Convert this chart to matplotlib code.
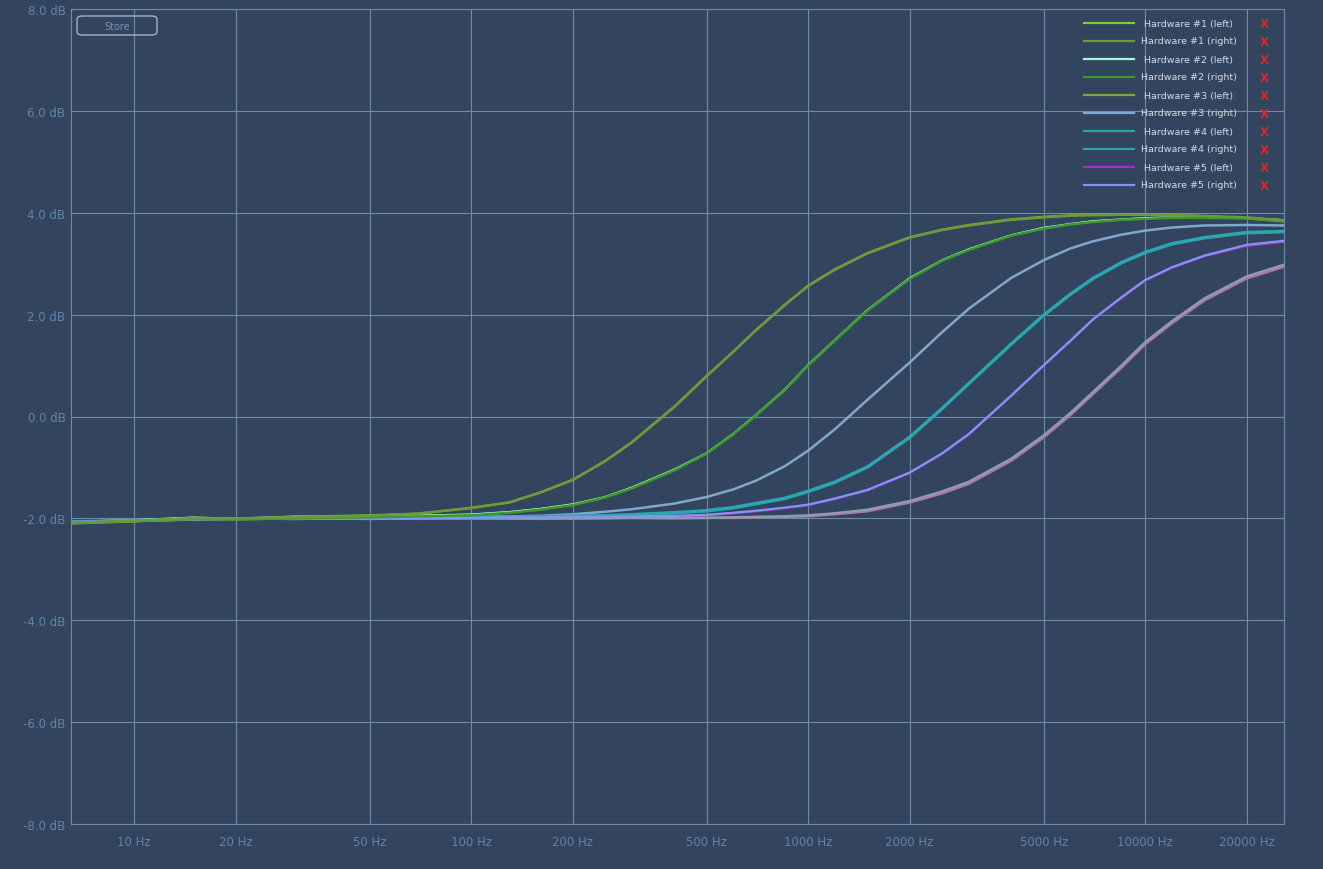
import matplotlib
matplotlib.use("Agg")
import matplotlib.pyplot as plt
from matplotlib.lines import Line2D
from matplotlib.patches import FancyBboxPatch

# ---------------- data ----------------
FREQ = [6.5, 10, 15, 20, 30, 50, 70, 100, 130, 160, 200, 250, 300, 400, 500, 600, 700, 850,
        1000, 1200, 1500, 2000, 2500, 3000, 4000, 5000, 6000, 7000, 8500,
        10000, 12000, 15000, 20000, 25800]

HW1_LEFT = [-2.07, -2.04, -1.99, -2.02, -2.00, -1.97, -1.95, -1.93, -1.88, -1.82, -1.73, -1.58, -1.40, -1.05, -0.72, -0.34, 0.03, 0.52,
            1.01, 1.50, 2.09, 2.71, 3.07, 3.28, 3.56, 3.70, 3.78, 3.83, 3.87, 3.89, 3.91, 3.91, 3.90, 3.85]
HW1_RIGHT = [-2.08, -2.05, -2.00, -2.00, -1.98, -1.95, -1.90, -1.80, -1.68, -1.50, -1.24, -0.88, -0.51, 0.18, 0.79, 1.28, 1.69, 2.19,
             2.56, 2.88, 3.20, 3.51, 3.66, 3.75, 3.86, 3.91, 3.94, 3.95, 3.96, 3.96, 3.95, 3.94, 3.91, 3.85]
HW2_LEFT = [-2.06, -2.03, -1.98, -2.00, -1.96, -1.96, -1.94, -1.92, -1.87, -1.81, -1.72, -1.58, -1.39, -1.04, -0.72, -0.34, 0.03, 0.52,
            1.01, 1.50, 2.09, 2.72, 3.07, 3.29, 3.56, 3.71, 3.78, 3.84, 3.87, 3.90, 3.91, 3.92, 3.90, 3.86]
HW2_RIGHT = [-2.09, -2.05, -2.01, -2.02, -2.00, -1.98, -1.96, -1.94, -1.89, -1.83, -1.74, -1.59, -1.41, -1.06, -0.73, -0.35, 0.02, 0.51,
             1.00, 1.49, 2.08, 2.70, 3.06, 3.27, 3.55, 3.69, 3.77, 3.82, 3.86, 3.88, 3.90, 3.90, 3.89, 3.84]
HW3_LEFT = [-2.10, -2.06, -1.99, -2.01, -1.97, -1.94, -1.91, -1.79, -1.69, -1.49, -1.25, -0.87, -0.50, 0.19, 0.80, 1.27, 1.70, 2.18,
            2.57, 2.89, 3.21, 3.52, 3.67, 3.76, 3.87, 3.92, 3.95, 3.96, 3.97, 3.97, 3.96, 3.93, 3.89, 3.83]
HW3_RIGHT = [-2.08, -2.05, -2.02, -2.01, -2.00, -1.99, -1.98, -1.97, -1.96, -1.95, -1.92, -1.87, -1.82, -1.71, -1.58, -1.43, -1.26, -0.98,
             -0.67, -0.25, 0.33, 1.06, 1.66, 2.12, 2.72, 3.07, 3.30, 3.44, 3.57, 3.65, 3.71, 3.75, 3.76, 3.75]
HW4_LEFT = [-2.08, -2.05, -2.02, -2.01, -2.00, -2.00, -2.00, -1.99, -1.98, -1.97, -1.96, -1.95, -1.94, -1.90, -1.86, -1.80, -1.72, -1.62,
            -1.48, -1.30, -1.00, -0.42, 0.15, 0.64, 1.41, 1.98, 2.39, 2.70, 3.01, 3.21, 3.38, 3.50, 3.60, 3.62]
HW4_RIGHT = [-2.06, -2.04, -2.01, -2.00, -2.01, -1.99, -1.99, -1.98, -1.97, -1.96, -1.95, -1.94, -1.92, -1.88, -1.84, -1.78, -1.70, -1.60,
             -1.46, -1.28, -0.98, -0.40, 0.17, 0.66, 1.43, 2.00, 2.41, 2.72, 3.03, 3.23, 3.40, 3.52, 3.62, 3.64]
HW5_LEFT = [-2.08, -2.05, -2.02, -2.01, -2.00, -2.01, -2.00, -2.00, -2.00, -1.99, -1.99, -1.98, -1.97, -1.96, -1.94, -1.90, -1.86, -1.80,
            -1.74, -1.62, -1.45, -1.11, -0.73, -0.35, 0.40, 1.00, 1.48, 1.90, 2.33, 2.67, 2.92, 3.15, 3.35, 3.43]
HW5_RIGHT = [-2.07, -2.04, -2.01, -2.00, -2.01, -2.00, -1.99, -1.99, -1.98, -1.98, -1.97, -1.97, -1.96, -1.95, -1.93, -1.89, -1.85, -1.79,
             -1.73, -1.61, -1.44, -1.10, -0.72, -0.34, 0.41, 1.01, 1.49, 1.91, 2.34, 2.68, 2.93, 3.16, 3.37, 3.45]
EXTRA_GREY = [-2.08, -2.05, -2.02, -2.01, -2.00, -2.01, -2.00, -2.00, -2.00, -2.00, -2.00, -1.99, -1.99, -1.99, -1.99, -1.98, -1.97, -1.96,
              -1.94, -1.90, -1.83, -1.66, -1.47, -1.28, -0.83, -0.37, 0.07, 0.48, 1.00, 1.46, 1.87, 2.32, 2.75, 2.98]
EXTRA_PINK = [-2.07, -2.04, -2.02, -2.00, -2.01, -2.00, -2.01, -1.99, -2.00, -2.01, -2.00, -2.00, -1.99, -2.00, -1.99, -1.99, -1.98, -1.97,
              -1.96, -1.92, -1.86, -1.69, -1.51, -1.32, -0.87, -0.41, 0.03, 0.44, 0.96, 1.42, 1.83, 2.28, 2.71, 2.94]

LABELS = ["Hardware #1 (left)", "Hardware #1 (right)", "Hardware #2 (left)", "Hardware #2 (right)",
          "Hardware #3 (left)", "Hardware #3 (right)", "Hardware #4 (left)", "Hardware #4 (right)",
          "Hardware #5 (left)", "Hardware #5 (right)"]
SERIES = [HW1_LEFT, HW1_RIGHT, HW2_LEFT, HW2_RIGHT, HW3_LEFT, HW3_RIGHT, HW4_LEFT, HW4_RIGHT, HW5_LEFT, HW5_RIGHT]
COLORS = ["#78d040", "#6a9a3c", "#a8f8d8", "#3c9a2c", "#86a43a", "#80a8cc", "#27a69e", "#2aa6b4", "#a030c8", "#8294f4"]
EXTRA_SERIES = [EXTRA_GREY, EXTRA_PINK]
EXTRA_COLORS = ["#8e9cab", "#b272aa"]

XTICKS = [10, 20, 50, 100, 200, 500, 1000, 2000, 5000, 10000, 20000]
XTICK_LABELS = ["10 Hz", "20 Hz", "50 Hz", "100 Hz", "200 Hz", "500 Hz", "1000 Hz", "2000 Hz",
                "5000 Hz", "10000 Hz", "20000 Hz"]
YTICKS = [-8, -6, -4, -2, 0, 2, 4, 6, 8]
YTICK_LABELS = ["-8.0 dB", "-6.0 dB", "-4.0 dB", "-2.0 dB", "0.0 dB", "2.0 dB", "4.0 dB", "6.0 dB", "8.0 dB"]

# ---------------- style ----------------
BG = "#33445e"
GRID = "#6b8cab"
TICKC = "#5e86aa"
W, H = 1323, 870
# drawing order / width per series index (style only)
ZORDER = [3.0, 3.4, 3.1, 3.3, 3.2, 3.0, 3.0, 3.1, 3.0, 3.1]
LWS = [1.6, 1.7, 1.2, 1.8, 1.7, 1.8, 1.9, 1.9, 1.8, 1.6]

plt.rcParams['font.family'] = ['DejaVu Sans']
fig = plt.figure(figsize=(W / 100, H / 100), dpi=100, facecolor=BG)
L, R, T, B = 71, 1284, 10, 825
ax = fig.add_axes([L / W, (H - B) / H, (R - L) / W, (B - T) / H])
ax.set_facecolor(BG)
ax.set_xscale("log")
ax.set_xlim(6.5, 25800)
ax.set_ylim(-8, 8)

for ys, c, z, lw in zip(SERIES, COLORS, ZORDER, LWS):
    ax.plot(FREQ, ys, color=c, lw=lw, zorder=z)
for ys, c, z in zip(EXTRA_SERIES, EXTRA_COLORS, [3.05, 3.0]):
    ax.plot(FREQ, ys, color=c, lw=1.8, zorder=z)

ax.set_xticks(XTICKS)
ax.set_xticklabels(XTICK_LABELS)
ax.xaxis.set_minor_locator(matplotlib.ticker.NullLocator())
ax.set_yticks(YTICKS)
ax.set_yticklabels(YTICK_LABELS)
ax.tick_params(axis="both", length=0, colors=TICKC, labelsize=8.5)
ax.tick_params(axis="x", pad=8)
ax.tick_params(axis="y", pad=4)
ax.grid(True, color=GRID, lw=0.8, zorder=1)
for s in ax.spines.values():
    s.set_color(GRID)
    s.set_linewidth(0.8)

# custom legend (figure pixel coordinates)
def fx(px):
    return px / W

def fy(py):
    return (H - py) / H

for i, (lab, c) in enumerate(zip(LABELS, COLORS)):
    yy = 24 + 18 * i
    fig.add_artist(Line2D([fx(1084), fx(1134)], [fy(yy), fy(yy)], color=c, lw=1.6))
    fig.text(fx(1189), fy(yy), lab, color="#d4dbe4", fontsize=6.8, ha="center", va="center")
    fig.text(fx(1264), fy(yy), "X", color="#e8202a", fontsize=8.5, fontweight="bold",
             ha="center", va="center")

# Store button
btn = FancyBboxPatch((fx(77), fy(36)), fx(157) - fx(77), fy(17) - fy(36),
                     boxstyle="round,pad=0,rounding_size=0.004", transform=fig.transFigure,
                     facecolor="none", edgecolor="#b4bfcc", lw=0.9)
fig.add_artist(btn)
fig.text(fx(117), fy(27), "Store", color="#6f96bb", fontsize=7, ha="center", va="center")

fig.savefig("out.png", dpi=100, facecolor=BG)
